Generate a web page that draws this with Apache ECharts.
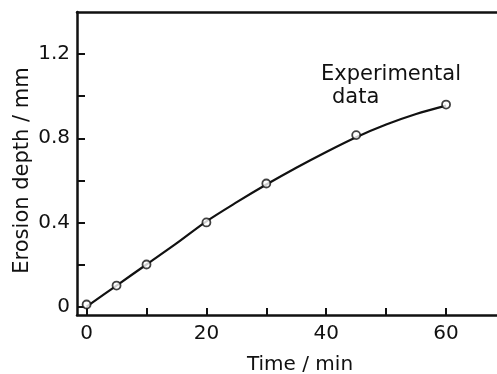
<!DOCTYPE html>
<html>
<head>
<meta charset="utf-8">
<script src="https://cdn.jsdelivr.net/npm/echarts@6/dist/echarts.min.js"></script>
<style>
  html, body { margin: 0; padding: 0; background: #fff; }
  #myChart { width: 497px; height: 374px; }
</style>
</head>
<body>
<div id="myChart"></div>
<script>
  // 实验数据点 (time / min, depth / mm)
  var expTime = [0, 5, 10, 20, 30, 45, 60]
  var expDepth = [0.01, 0.1, 0.2, 0.4, 0.585, 0.815, 0.96]

  // 拟合曲线
  var curveTime = [0, 5, 10, 15, 20, 25, 30, 35, 40, 45, 50, 55, 60]
  var curveDepth = [0.0, 0.1, 0.2, 0.3, 0.405, 0.495, 0.58, 0.66, 0.735, 0.805, 0.865, 0.915, 0.955]

  var xTicks = [0, 10, 20, 30, 40, 50, 60]
  var xLabels = [0, 20, 40, 60]
  var yTicks = [0, 0.2, 0.4, 0.6, 0.8, 1.0, 1.2]
  var yLabels = [0, 0.4, 0.8, 1.2]

  var ink = '#111'
  var font = 'DejaVu Sans'

  function pairs (xs, ys) {
    var out = []
    for (var i = 0; i < xs.length; i++) {
      out.push([xs[i], ys[i]])
    }
    return out
  }

  var myChart = echarts.init(document.getElementById('myChart'))
  myChart.setOption({
    animation: false,
    backgroundColor: '#fff',
    grid: { left: 77, top: 12, right: 0, bottom: 59, outerBoundsMode: 'none', containLabel: false },
    xAxis: [
      {
        type: 'value',
        min: -1.6,
        max: 68.5,
        name: 'Time / min',
        nameLocation: 'middle',
        nameGap: 40,
        nameMoveOverlap: false,
        nameTextStyle: { color: ink, fontFamily: font, fontSize: 20, padding: [0, 0, 0, 26] },
        splitLine: { show: false },
        axisLine: { onZero: false, lineStyle: { color: ink, width: 2.5 } },
        axisTick: { inside: true, length: 7, customValues: xTicks, lineStyle: { color: ink, width: 2 } },
        axisLabel: { customValues: xLabels, margin: 9, color: ink, fontFamily: font, fontSize: 20 }
      },
      {
        type: 'value',
        position: 'top',
        min: -1.6,
        max: 68.5,
        splitLine: { show: false },
        axisLine: { onZero: false, lineStyle: { color: ink, width: 2.5 } },
        axisTick: { show: false },
        axisLabel: { show: false }
      }
    ],
    yAxis: {
      type: 'value',
      min: -0.04,
      max: 1.4,
      name: 'Erosion depth / mm',
      nameLocation: 'middle',
      nameGap: 44,
      nameMoveOverlap: false,
      nameTextStyle: { color: ink, fontFamily: font, fontSize: 21, padding: [0, 14, 0, 0] },
      splitLine: { show: false },
      axisLine: { onZero: false, lineStyle: { color: ink, width: 2.5 } },
      axisTick: { inside: true, length: 8, customValues: yTicks, lineStyle: { color: ink, width: 2 } },
      axisLabel: {
        customValues: yLabels,
        margin: 7,
        color: ink,
        fontFamily: font,
        fontSize: 20,
        formatter: function (v) { return v === 0 ? '0' : v.toFixed(1) }
      }
    },
    graphic: [
      { type: 'text', left: 321, top: 64, style: { text: 'Experimental', fill: ink, font: '21px "DejaVu Sans"' } },
      { type: 'text', left: 332, top: 87, style: { text: 'data', fill: ink, font: '21px "DejaVu Sans"' } }
    ],
    series: [
      {
        name: 'fit',
        type: 'line',
        smooth: 0.3,
        showSymbol: false,
        lineStyle: { color: ink, width: 2.2 },
        data: pairs(curveTime, curveDepth)
      },
      {
        name: 'Experimental data',
        type: 'scatter',
        symbol: 'circle',
        symbolSize: 8,
        itemStyle: { color: '#fff', borderColor: ink, borderWidth: 1.8 },
        z: 5,
        data: pairs(expTime, expDepth)
      }
    ]
  })
</script>
</body>
</html>
